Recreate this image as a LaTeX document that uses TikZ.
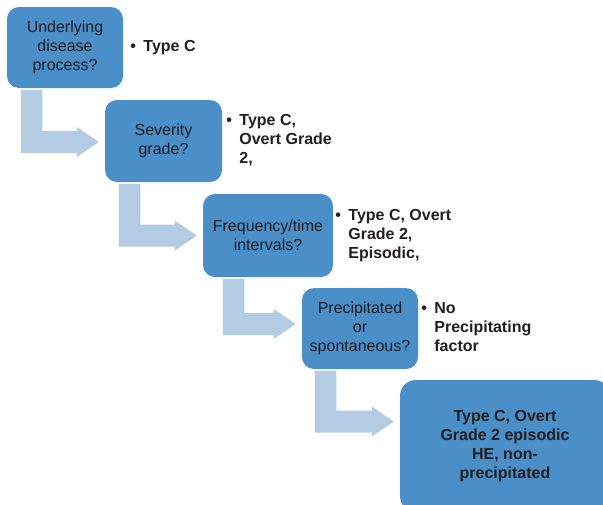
\documentclass[tikz,border=0pt]{standalone}
\usepackage{fontspec}
\setmainfont{Liberation Sans}
\usetikzlibrary{calc}
\definecolor{boxblue}{RGB}{74,143,200}
\definecolor{arrowblue}{RGB}{180,204,227}
\definecolor{ink}{RGB}{35,31,32}
\definecolor{boxtext}{RGB}{30,30,34}
% block arrow: #1 source node, #2 target node, #3 x offset of arm from source SW, #4 bar centre offset (down) from target west
\newcommand\blockarrow[4]{%
  \fill[arrowfill] let \p1=(#1.south west), \p3=($(#2.west)+(-6,#4)$) in
    (\x1+#3pt,\y1-2pt) -- (\x1+#3pt+21.5pt,\y1-2pt) -- (\x1+#3pt+21.5pt,\y3+11pt)
    -- (\x3-22pt,\y3+11pt) -- (\x3-22pt,\y3+15pt) -- (\x3,\y3)
    -- (\x3-22pt,\y3-15pt) -- (\x3-22pt,\y3-11pt) -- (\x1+#3pt,\y3-11pt) -- cycle;}
\newcommand\bul{\makebox[13pt][l]{\textbullet}}
\begin{document}
\begin{tikzpicture}[x=1pt,y=-1pt,
  box/.style={fill=boxblue, rounded corners=12pt, text=boxtext, align=center,
    inner sep=0pt, font=\fontsize{16}{19}\selectfont},
  bigbox/.style={box, rounded corners=16pt, text=ink, font=\fontsize{16}{19}\selectfont\bfseries},
  lab/.style={anchor=west, inner sep=0pt, text=ink, font=\fontsize{16}{19}\selectfont\bfseries},
  arrowfill/.style={fill=arrowblue}]
\useasboundingbox (0,0) rectangle (603,504);
\clip (0,0) rectangle (603,504);
\fill[white] (0,0) rectangle (603,504);

\node[box, minimum width=116pt, minimum height=81pt] (b1) at (65,47.5) {Underlying\\disease\\process?};
\node[box, minimum width=117pt, minimum height=82pt] (b2) at (163.5,141) {Severity\\grade?};
\node[box, minimum width=130pt, minimum height=83pt] (b3) at (268,235.5) {Frequency/time\\intervals?};
\node[box, minimum width=116pt, minimum height=81pt] (b4) at (360,328.5) {Precipitated\\or\\spontaneous?};
\node[bigbox, minimum width=210pt, minimum height=132pt] (b5) at (505,446) {Type C, Overt\\Grade 2 episodic\\HE, non-\\precipitated};

\blockarrow{b1}{b2}{14}{1}
\blockarrow{b2}{b3}{14}{0}
\blockarrow{b3}{b4}{20}{-4.5}
\blockarrow{b4}{b5}{13}{-24.5}

\node[lab] (l1) at ($(b1.east)+(7,0)$) {\begin{tabular}{@{}l@{}l@{}}\bul&Type C\end{tabular}};
\node[lab] (l2) at ($(b2.east)+(4,0)$) {\begin{tabular}{@{}l@{}l@{}}\bul&Type C,\\&Overt Grade\\&2,\end{tabular}};
\node[lab] (l3) at ($(b3.east)+(2,0)$) {\begin{tabular}{@{}l@{}l@{}}\bul&Type C, Overt\\&Grade 2,\\&Episodic,\end{tabular}};
\node[lab] (l4) at ($(b4.east)+(3,0)$) {\begin{tabular}{@{}l@{}l@{}}\bul&No\\&Precipitating\\&factor\end{tabular}};
\end{tikzpicture}
\end{document}
